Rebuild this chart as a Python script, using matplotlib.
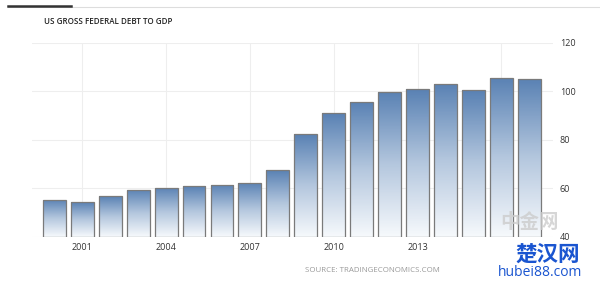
import numpy as np
import matplotlib
matplotlib.use("Agg")
import matplotlib.pyplot as plt
from matplotlib.colors import LinearSegmentedColormap
from matplotlib.lines import Line2D

# US gross federal debt to GDP (%)
years = list(range(2000, 2018))
debt = [55.3, 54.3, 56.9, 59.4, 60.3, 61.0, 61.6, 62.3, 67.5,
        82.3, 91.1, 95.8, 99.8, 101.0, 103.1, 100.6, 105.6, 105.2]
xticks = [2001, 2004, 2007, 2010, 2013, 2016]
xtick_labels = ["2001", "2004", "2007", "2010", "2013", ""]
yticks = [40, 60, 80, 100, 120]

plt.rcParams['font.family'] = ['Open Sans', 'DejaVu Sans']

fig = plt.figure(figsize=(6, 2.81), dpi=100)
fig.patch.set_facecolor('white')
ax = fig.add_axes([32/600, 1-237/281, 521/600, 194/281])

grad = LinearSegmentedColormap.from_list('g', ['#f6f9fc', '#b4c7de', '#5a82b4'])
g = np.linspace(0, 1, 100).reshape(-1, 1)

bars = ax.bar(years, [d - 40 for d in debt], bottom=40, width=0.82,
              color='none', edgecolor='#7a7a7a', linewidth=0.9, zorder=3)
for b in bars:
    x0, y0 = b.get_x(), b.get_y()
    im = ax.imshow(g, cmap=grad, aspect='auto', origin='lower',
                   extent=[x0, x0 + b.get_width(), y0, y0 + b.get_height()], zorder=2)
    im.set_clip_path(b)

ax.set_xlim(1999.2, 2017.85)
ax.set_ylim(40, 120)
ax.set_xticks(xticks)
ax.set_xticklabels(xtick_labels)
ax.set_yticks(yticks)
ax.yaxis.tick_right()
ax.tick_params(axis='both', length=0, labelsize=6.5, colors='#333333')
ax.tick_params(axis='x', pad=4)
ax.tick_params(axis='y', pad=5)
ax.grid(True, color='#eeeeee', linewidth=0.8, zorder=0)
for s in ax.spines.values():
    s.set_visible(False)

# header line with tab marker
fig.add_artist(Line2D([8/600, 1], [1-7/281, 1-7/281], color='#dddddd', lw=0.8))
fig.add_artist(Line2D([8/600, 71/600], [1-6/281, 1-6/281], color='#333333', lw=1.8))

fig.text(44/600, 1-22/281, "US GROSS FEDERAL DEBT TO GDP", fontsize=5.8,
         color='#222222', va='center', ha='left', fontweight='semibold')
fig.text(305/600, 1-270/281, "SOURCE: TRADINGECONOMICS.COM", fontsize=5.7,
         color='#999999', va='center', ha='left')

# watermark
fig.text(530/600, 1-222/281, "中金网", fontsize=14, color='#cccccc', alpha=0.8,
         ha='center', va='center', family=['Noto Sans CJK SC', 'DejaVu Sans'], fontweight='bold')
fig.text(548/600, 1-254/281, "楚汉网", fontsize=15.5, color='#1a55d0',
         ha='center', va='center', family=['Noto Sans CJK SC', 'DejaVu Sans'], fontweight='bold')
fig.text(540/600, 1-272/281, "hubei88.com", fontsize=10, color='#1a55d0',
         ha='center', va='center')

fig.savefig("out.png", dpi=100)
